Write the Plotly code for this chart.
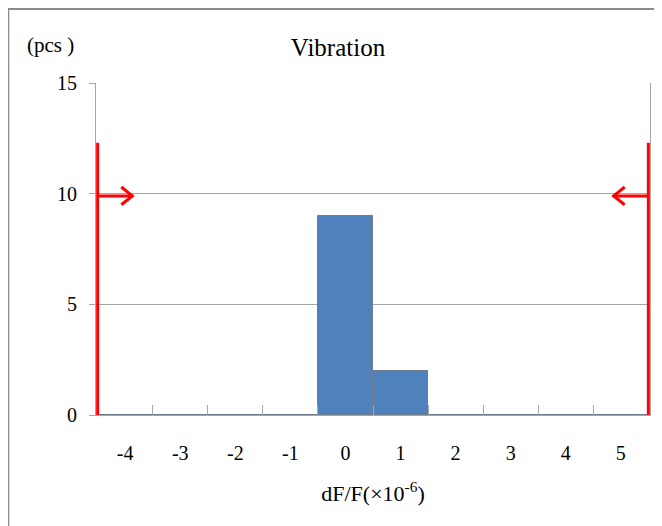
import plotly.graph_objects as go

# Data
categories = [-4, -3, -2, -1, 0, 1, 2, 3, 4, 5]
counts = [0, 0, 0, 0, 9, 2, 0, 0, 0, 0]
tick_labels = ["-4", "-3", "-2", "-1", "0", "1", "2", "3", "4", "5"]
bin_edges = [-3.5, -2.5, -1.5, -0.5, 0.5, 1.5, 2.5, 3.5, 4.5]
y_ticks = [0, 5, 10, 15]

# Spec limits (red lines)
lower_limit = -4.5
upper_limit = 5.5
limit_top = 12.3
limit_bottom = -0.15
arrow_y = 9.9
arrow_len = 0.63
head_dx = 0.2
head_dy = 0.4

FONT = "Liberation Serif"
RED = "#ff0000"
GRID = "#a6a6a6"

W, H = 654, 518
ML, MR, MT, MB = 88, 12, 75, 111
PW, PH = W - ML - MR, H - MT - MB

fig = go.Figure()

fig.add_trace(go.Bar(
    x=categories, y=counts, width=1,
    marker=dict(color="#4f81bd", line=dict(color="#6e7b8b", width=1)),
    showlegend=False, hoverinfo="x+y",
))

# Left limit line and arrow (pointing right)
fig.add_trace(go.Scatter(
    x=[lower_limit, lower_limit], y=[limit_bottom, limit_top],
    mode="lines", line=dict(color=RED, width=3), showlegend=False))
fig.add_trace(go.Scatter(
    x=[lower_limit, lower_limit + arrow_len, None,
       lower_limit + arrow_len - head_dx, lower_limit + arrow_len, lower_limit + arrow_len - head_dx],
    y=[arrow_y, arrow_y, None, arrow_y + head_dy, arrow_y, arrow_y - head_dy],
    mode="lines", line=dict(color=RED, width=3), showlegend=False))

# Right limit line and arrow (pointing left) - on the overlay axis carrying bin-edge ticks
fig.add_trace(go.Scatter(
    x=[upper_limit, upper_limit], y=[limit_bottom, limit_top],
    mode="lines", line=dict(color=RED, width=3), showlegend=False, xaxis="x2"))
fig.add_trace(go.Scatter(
    x=[upper_limit, upper_limit - arrow_len, None,
       upper_limit - arrow_len + head_dx, upper_limit - arrow_len, upper_limit - arrow_len + head_dx],
    y=[arrow_y, arrow_y, None, arrow_y + head_dy, arrow_y, arrow_y - head_dy],
    mode="lines", line=dict(color=RED, width=3), showlegend=False, xaxis="x2"))

xrange = [-4.53, 5.53]

fig.update_layout(
    width=W, height=H,
    margin=dict(l=ML, r=MR, t=MT, b=MB),
    paper_bgcolor="white", plot_bgcolor="white",
    bargap=0,
    font=dict(family=FONT, size=19, color="#000000"),
    title=dict(text="Vibration", x=330 / W, xanchor="center",
               y=1 - 39 / H, yanchor="middle",
               font=dict(family=FONT, size=25, color="#000000")),
    xaxis=dict(
        range=xrange,
        tickmode="array", tickvals=categories, ticktext=tick_labels,
        ticks="", showgrid=False, zeroline=False,
        showline=True, linecolor=GRID, linewidth=1,
        ticklabelstandoff=20,
        tickfont=dict(family=FONT, size=20, color="#000000"),
        title=dict(text="dF/F(×10<sup>-6</sup>)", standoff=22,
                   font=dict(family=FONT, size=22, color="#000000")),
        fixedrange=True,
    ),
    xaxis2=dict(
        range=xrange, overlaying="x", side="bottom", anchor="y",
        tickmode="array", tickvals=bin_edges, showticklabels=False,
        ticks="inside", ticklen=10, tickcolor=GRID, tickwidth=1,
        showgrid=False, zeroline=False, showline=False,
        fixedrange=True,
    ),
    yaxis=dict(
        range=[0, 15], tickmode="array", tickvals=y_ticks,
        showgrid=True, gridcolor=GRID, gridwidth=1, zeroline=False,
        showline=True, linecolor=GRID, linewidth=1, mirror=True,
        ticks="outside", ticklen=6, tickcolor=GRID,
        ticklabelstandoff=8,
        tickfont=dict(family=FONT, size=20, color="#000000"),
        fixedrange=True,
    ),
    shapes=[
        dict(type="rect", xref="paper", yref="paper",
             x0=-ML / PW + 0.0005, x1=(W - ML + 20) / PW,
             y0=-(MB + 20) / PH, y1=(PH + MT - 1) / PH,
             line=dict(color="#8c8c8c", width=2), fillcolor="rgba(0,0,0,0)",
             layer="below"),
    ],
    annotations=[
        dict(text="(pcs )", xref="paper", yref="paper",
             x=(17 - ML) / PW, y=(PH + MT - 37) / PH,
             xanchor="left", yanchor="middle", showarrow=False,
             font=dict(family=FONT, size=21, color="#000000")),
    ],
)

fig.write_html("out.html")
